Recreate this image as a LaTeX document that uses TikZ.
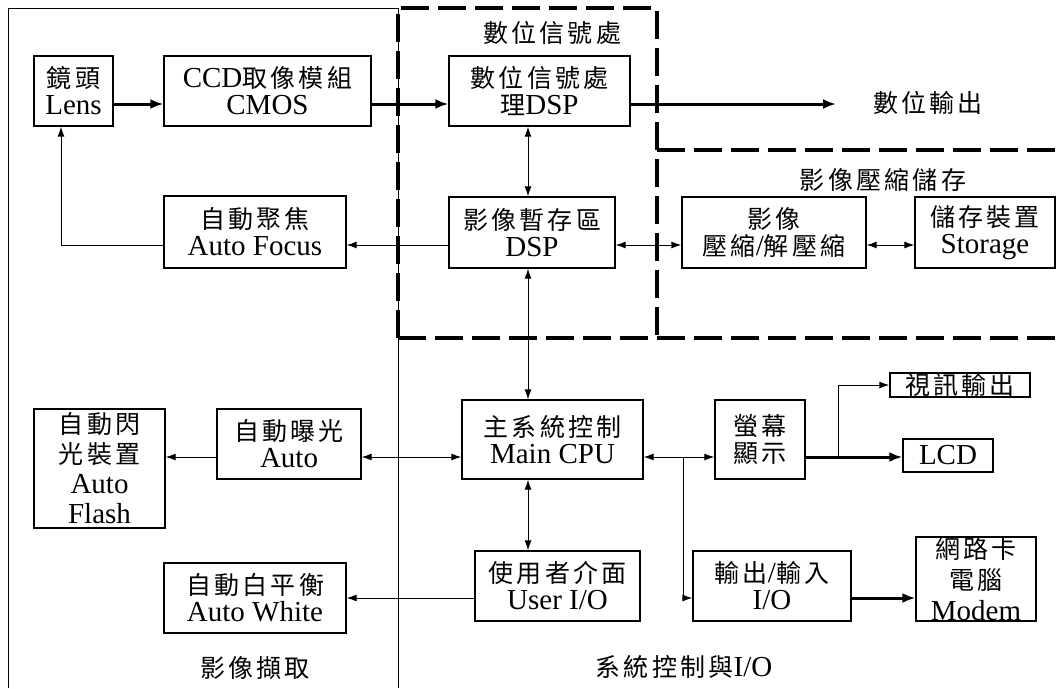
\documentclass[tikz,border=0pt]{standalone}
\usepackage{fontspec}
\setmainfont{Liberation Serif}
\newfontfamily\cjkf[LetterSpace=13]{Noto Sans CJK TC}
\usetikzlibrary{arrows.meta}
\newcommand\CJ[1]{{\cjkf #1}}
\newcommand\LT[1]{{\fontsize{29}{27}\selectfont #1}}
\tikzset{
  box/.style={draw, line width=1.3pt, inner sep=0pt, align=center, font=\fontsize{25}{27}\selectfont},
  lbl/.style={inner sep=0pt, align=center, font=\fontsize{25}{27}\selectfont},
  conn/.style={line width=1pt, -{Latex[length=10pt,width=7pt]}},
  dbl/.style={line width=1pt, {Latex[length=10pt,width=7pt]}-{Latex[length=10pt,width=7pt]}},
  thk/.style={line width=3pt, -{Latex[length=13pt,width=10pt]}},
  frame/.style={line width=1pt},
  dsh/.style={line width=3.5pt, dash pattern=on 28pt off 9pt}
}
\begin{document}
\begin{tikzpicture}[x=1pt,y=-1pt]
\fill[white] (0,0) rectangle (1062,688);
\useasboundingbox (0,0) rectangle (1062,688);
% frames
\draw[frame] (8,688) -- (8,8) -- (398,8) -- (398,688);
\draw[dsh] (398,338) -- (398,8) -- (657,8) -- (657,338);
\draw[dsh] (398,338) -- (1062,338);
\draw[dsh] (657,150) -- (1062,150);
% row / column helpers
\coordinate (yA) at (0,104);
\coordinate (yB) at (0,245);
\coordinate (yC) at (0,457);
\coordinate (yD) at (0,598);
\coordinate (xA) at (528,0);
\coordinate (xF) at (61,0);
\coordinate (xJ) at (683,0);
\coordinate (xK) at (838,0);
\coordinate (outtip) at (836,104);
% boxes
\node[box, minimum width=79pt, minimum height=70pt] (Lens) at (73.5,91) {\CJ{鏡頭}\\\LT{Lens}};
\node[box, minimum width=207pt, minimum height=70pt] (CCD) at (267.5,91) {\LT{CCD}\CJ{取像模組}\\\LT{CMOS}};
\node[box, minimum width=181pt, minimum height=70pt] (DSP1) at (539.5,91) {\CJ{數位信號處}\\\CJ{理}\LT{DSP}};
\node[box, minimum width=166pt, minimum height=71pt] (Buf) at (532,232.5) {\CJ{影像暫存區}\\\LT{DSP}};
\node[box, minimum width=182pt, minimum height=72pt] (AF) at (255,232) {\CJ{自動聚焦}\\\LT{Auto Focus}};
\node[box, minimum width=184pt, minimum height=71pt] (Comp) at (774,232.5) {\CJ{影像}\\\CJ{壓縮}\LT{/}\CJ{解壓縮}};
\node[box, minimum width=140pt, minimum height=71pt] (Stor) at (985,232.5) {\CJ{儲存裝置}\\\LT{Storage}};
\node[box, minimum width=181pt, minimum height=79pt] (CPU) at (552.5,439.5) {\CJ{主系統控制}\\\LT{Main CPU}};
\node[box, minimum width=90pt, minimum height=79pt] (Disp) at (760,439.5) {\CJ{螢幕}\\\CJ{顯示}};
\node[box, minimum width=140pt, minimum height=24pt] (Video) at (960,385) {\CJ{視訊輸出}};
\node[box, minimum width=90pt, minimum height=33pt] (LCD) at (948,455.5) {\LT{LCD}};
\node[box, minimum width=158pt, minimum height=70pt] (IO) at (772,586) {\CJ{輸出}\LT{/}\CJ{輸入}\\\LT{I/O}};
\node[box, minimum width=120pt, minimum height=84pt, font=\fontsize{25}{31}\selectfont] (Net) at (976,579) {\CJ{網路卡}\\\CJ{電腦}\\\LT{Modem}};
\node[box, minimum width=165pt, minimum height=70pt] (UIO) at (557.5,586) {\CJ{使用者介面}\\\LT{User I/O}};
\node[box, minimum width=144pt, minimum height=70pt] (AE) at (289,444) {\CJ{自動曝光}\\\LT{Auto}};
\node[box, minimum width=131pt, minimum height=119pt, font=\fontsize{25}{30}\selectfont] (Flash) at (99.5,468.5) {\CJ{自動閃}\\\CJ{光裝置}\\\LT{Auto}\\\LT{Flash}};
\node[box, minimum width=182pt, minimum height=70pt] (AW) at (255,598) {\CJ{自動白平衡}\\\LT{Auto White}};
% labels
\node[lbl] (t1) at (552,33) {\CJ{數位信號處}};
\node[lbl] (t2) at (928,103) {\CJ{數位輸出}};
\node[lbl] (t3) at (883,180) {\CJ{影像壓縮儲存}};
\node[lbl] (t4) at (255,668) {\CJ{影像擷取}};
\node[lbl] (t5) at (684,667) {\CJ{系統控制與}\LT{I/O}};
% connectors
\draw[thk] (Lens.east |- yA) -- (CCD.west |- yA);
\draw[thk] (CCD.east |- yA) -- (DSP1.west |- yA);
\draw[thk] (DSP1.east |- yA) -- (outtip);
\draw[dbl] (DSP1.south -| xA) -- (Buf.north -| xA);
\draw[conn] (Buf.west |- yB) -- (AF.east |- yB);
\draw[conn] (AF.west |- yB) -- (xF |- yB) -- (Lens.south -| xF);
\draw[dbl] (Buf.east |- yB) -- (Comp.west |- yB);
\draw[dbl] (Comp.east |- yB) -- (Stor.west |- yB);
\draw[dbl] (Buf.south -| xA) -- (CPU.north -| xA);
\draw[dbl] (AE.east |- yC) -- (CPU.west |- yC);
\draw[conn] (AE.west |- yC) -- (Flash.east |- yC);
\draw[dbl] (CPU.east |- yC) -- (Disp.west |- yC);
\draw[conn] (xJ |- yC) -- (xJ |- yD) -- (IO.west |- yD);
\draw[thk] (Disp.east |- yC) -- (LCD.west |- yC);
\draw[conn] (xK |- yC) -- (xK |- Video.west) -- (Video.west);
\draw[dbl] (CPU.south -| xA) -- (UIO.north -| xA);
\draw[conn] (UIO.west |- yD) -- (AW.east |- yD);
\draw[thk] (IO.east |- yD) -- (Net.west |- yD);
\end{tikzpicture}
\end{document}
